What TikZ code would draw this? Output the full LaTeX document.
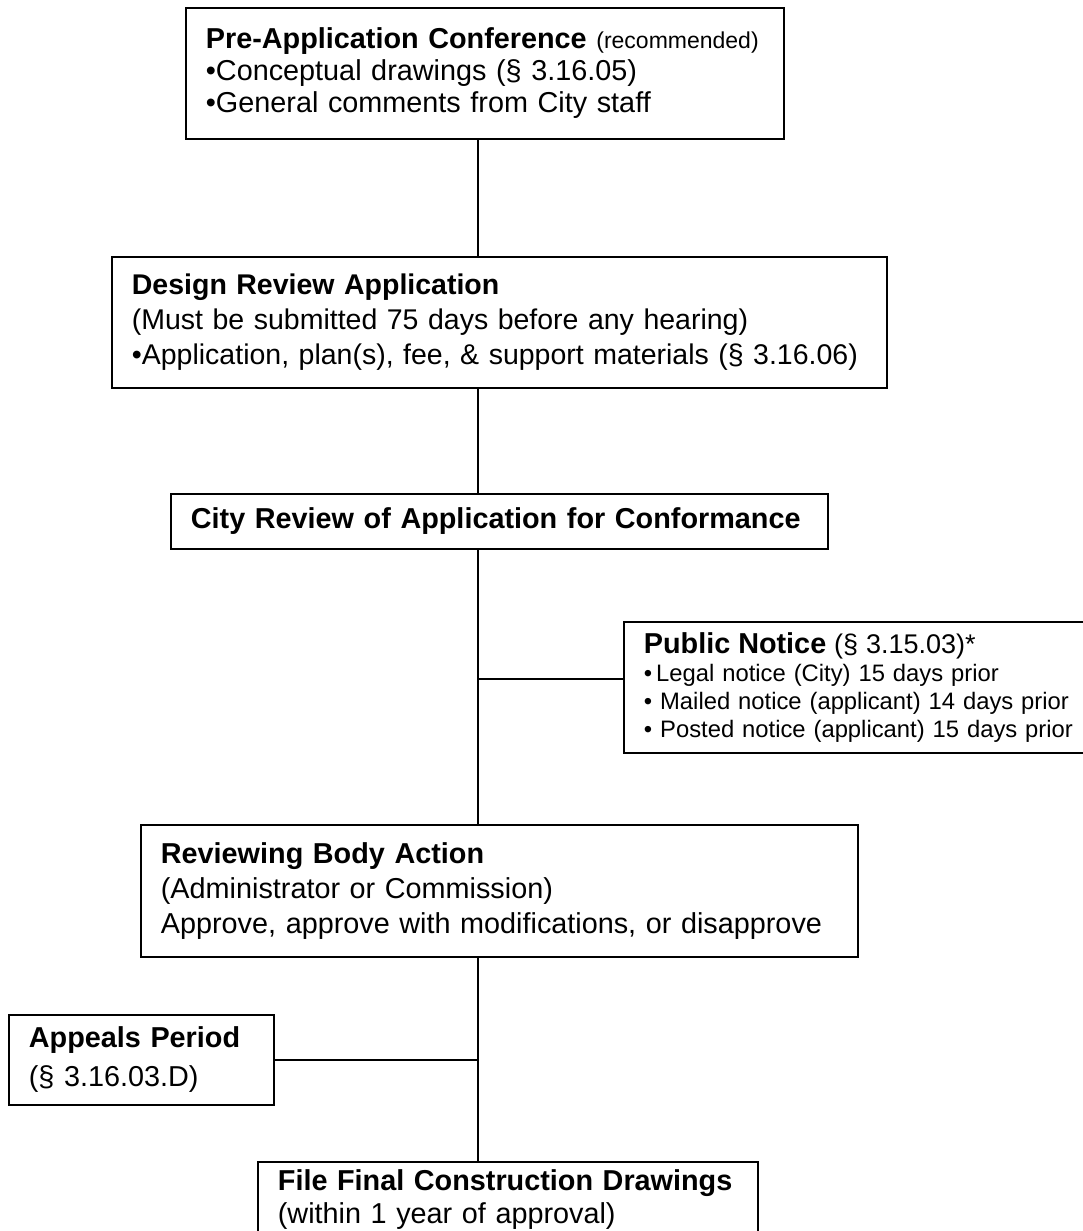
\documentclass[tikz,border=0pt]{standalone}
\usepackage{fontspec}
\setmainfont{Liberation Sans}
\usetikzlibrary{positioning}

\tikzset{
  stagebox/.style={draw, line width=1.8pt, anchor=north west, align=left,
                   inner xsep=0pt, inner ysep=0pt,
                   font=\fontsize{28.8}{33}\selectfont},
  link/.style={line width=1.4pt},
}

\begin{document}
\begin{tikzpicture}[x=1pt, y=-1pt]
    \useasboundingbox (0,0) rectangle (1083,1231);
    \coordinate (spine) at (478,0);

    \node [stagebox, minimum width=598pt, minimum height=131pt, text width=558pt,
           font=\fontsize{28.8}{32}\selectfont] (preapp) at (185,7)
        {\textbf{Pre-Application Conference} {\fontsize{23}{26}\selectfont (recommended)}\\
         •Conceptual drawings (§ 3.16.05)\\
         •General comments from City staff};

    \node [stagebox, minimum width=775pt, minimum height=131pt, text width=735pt,
           font=\fontsize{28.5}{35}\selectfont] (design) at (111,256)
        {\textbf{Design Review Application}\\
         (Must be submitted 75 days before any hearing)\\
         •Application, plan(s), fee, \& support materials (§ 3.16.06)};

    \node [stagebox, minimum width=657pt, minimum height=55pt, text width=617pt] (cityrev) at (170,493)
        {\textbf{City Review of Application for Conformance}};

    \node [stagebox, minimum width=480pt, minimum height=131pt, text width=440pt,
           font=\fontsize{23.8}{28}\selectfont] (notice) at (623,621)
        {{\fontsize{28.8}{33}\selectfont\textbf{Public Notice}} {\fontsize{27}{33}\selectfont(§ 3.15.03)*}\\
         •\,Legal notice (City) 15 days prior\\
         • Mailed notice (applicant) 14 days prior\\
         • Posted notice (applicant) 15 days prior};

    \node [stagebox, minimum width=717pt, minimum height=132pt, text width=677pt,
           font=\fontsize{28.8}{35}\selectfont] (bodyact) at (140,824)
        {\textbf{Reviewing Body Action}\\
         (Administrator or Commission)\\
         Approve, approve with modifications, or disapprove};

    \node [stagebox, minimum width=265pt, minimum height=90pt, text width=225pt,
           font=\fontsize{28.8}{39}\selectfont] (appeals) at (8,1014)
        {\textbf{Appeals Period}\\
         (§ 3.16.03.D)};

    \node [stagebox, minimum width=500pt, minimum height=76pt, text width=460pt] (final) at (257,1161)
        {\textbf{File Final Construction Drawings}\\
         (within 1 year of approval)};

    % main spine
    \draw [link] (preapp.south -| spine) -- (design.north -| spine);
    \draw [link] (design.south -| spine) -- (cityrev.north -| spine);
    \draw [link] (cityrev.south -| spine) -- (bodyact.north -| spine);
    \draw [link] (bodyact.south -| spine) -- (final.north -| spine);

    % side branches
    \coordinate (noticejoin) at (478,679);
    \draw [link] (noticejoin) -- (noticejoin -| notice.west);
    \draw [link] (appeals.east) -- (appeals.east -| spine);
\end{tikzpicture}
\end{document}
